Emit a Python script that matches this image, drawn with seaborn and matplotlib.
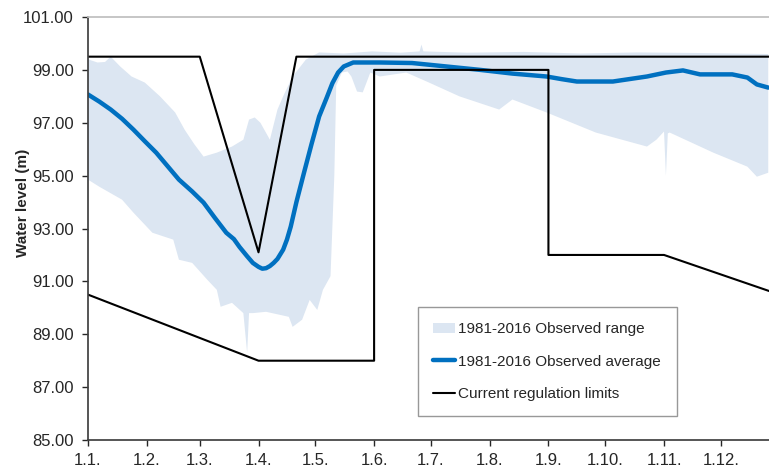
import matplotlib
matplotlib.use("Agg")
import matplotlib.pyplot as plt
import numpy as np
import pandas as pd
import seaborn as sns

# day of year (0 = 1 Jan) and water level readings
month_starts = [0, 31, 59, 90, 120, 151, 181, 212, 243, 273, 304, 334]
month_labels = ["1.1.", "1.2.", "1.3.", "1.4.", "1.5.", "1.6.",
                "1.7.", "1.8.", "1.9.", "1.10.", "1.11.", "1.12."]

avg_days = [0, 6, 12, 18, 24, 30, 36, 42, 48, 55, 61, 67, 73, 77, 80, 84, 87,
            90, 92, 94, 96, 98, 100, 103, 105, 107, 110, 114, 118, 122, 126,
            129, 132, 135, 140, 154, 171, 189, 207, 224, 242, 250, 258, 277,
            295, 305, 314, 323, 340, 348, 353, 359]
avg_vals = [98.07, 97.8, 97.5, 97.15, 96.74, 96.3, 95.87, 95.36, 94.85, 94.4,
            93.98, 93.4, 92.84, 92.6, 92.3, 91.95, 91.7, 91.55, 91.48, 91.5,
            91.58, 91.7, 91.85, 92.2, 92.58, 93.07, 94.0, 95.11, 96.2, 97.24,
            97.95, 98.5, 98.9, 99.13, 99.28, 99.28, 99.26, 99.13, 99.0, 98.86,
            98.75, 98.65, 98.56, 98.56, 98.75, 98.9, 98.98, 98.83, 98.83,
            98.71, 98.45, 98.33]

high_days = [0, 5, 9, 12, 17, 23, 30, 38, 46, 51, 56, 61, 68, 76, 82, 85, 88,
             91, 96, 100, 103, 108, 115, 122, 135, 150, 165, 175, 176, 177,
             200, 230, 260, 290, 320, 340, 359]
high_vals = [99.4, 99.28, 99.3, 99.5, 99.13, 98.75, 98.52, 98.0, 97.39, 96.74,
             96.2, 95.72, 95.87, 96.1, 96.36, 97.12, 97.2, 97.0, 96.36, 97.5,
             98.0, 98.75, 99.39, 99.66, 99.62, 99.7, 99.65, 99.7, 99.96, 99.7,
             99.65, 99.68, 99.62, 99.66, 99.64, 99.62, 99.6]

low_days = [0, 6, 18, 24, 34, 45, 48, 55, 63, 68, 70, 76, 82, 84, 85, 87, 94,
            106, 108, 113, 117, 121, 124, 128, 130, 131, 134, 137, 139, 142,
            145, 147, 149, 154, 168, 180, 196, 217, 224, 242, 268, 295, 300,
            304, 305, 306, 307, 330, 348, 353, 359]
low_vals = [94.85, 94.58, 94.09, 93.6, 92.84, 92.58, 91.82, 91.7, 91.06, 90.68,
            90.04, 90.19, 89.8, 88.3, 89.8, 89.8, 89.85, 89.66, 89.28, 89.55,
            90.3, 89.92, 90.68, 91.2, 95.0, 98.4, 98.9, 98.94, 98.75, 98.18,
            98.15, 98.52, 98.9, 98.75, 98.9, 98.52, 98.0, 97.5, 97.88, 97.39,
            96.63, 96.1, 96.36, 96.67, 95.0, 96.6, 96.63, 95.87, 95.34, 94.96,
            95.11]

upper_days = [0, 59, 90, 110, 365]
upper_vals = [99.5, 99.5, 92.1, 99.5, 99.5]
lower_days = [0, 90, 151, 151, 243, 243, 304, 365]
lower_vals = [90.5, 88.0, 88.0, 99.0, 99.0, 92.0, 92.0, 90.5]

avg_df = pd.DataFrame({"day": avg_days, "level": avg_vals})
upper_df = pd.DataFrame({"day": upper_days, "level": upper_vals})
lower_df = pd.DataFrame({"day": lower_days, "level": lower_vals})

sns.set_theme(style="white")
plt.rcParams["font.family"] = ["Liberation Sans", "DejaVu Sans"]

fig, ax = plt.subplots(figsize=(7.69, 4.70), dpi=100)
fig.subplots_adjust(left=0.1144, right=1.0, top=0.9638, bottom=0.0638)

# observed range as one polygon: upper edge then lower edge backwards
ax.fill(np.concatenate([high_days, low_days[::-1]]),
        np.concatenate([high_vals, low_vals[::-1]]),
        color="#DCE6F2", lw=0, label="1981-2016 Observed range")

sns.lineplot(data=avg_df, x="day", y="level", ax=ax, color="#0070C0", lw=3.2,
             estimator=None, label="1981-2016 Observed average")
sns.lineplot(data=upper_df, x="day", y="level", ax=ax, color="black", lw=1.5,
             estimator=None, sort=False, label="Current regulation limits")
sns.lineplot(data=lower_df, x="day", y="level", ax=ax, color="black", lw=1.5,
             estimator=None, sort=False)

ax.set_xlim(0, 359.4)
ax.set_ylim(85, 101)
ax.set_xticks(month_starts)
ax.set_xticklabels(month_labels)
ax.set_yticks(np.arange(85, 101.1, 2))
ax.yaxis.set_major_formatter(matplotlib.ticker.FormatStrFormatter("%.2f"))
ax.set_xlabel("")
ax.set_ylabel("Water level (m)", fontsize=11, fontweight="bold")
ax.yaxis.set_label_coords(-0.085, 0.56)
ax.tick_params(axis="both", labelsize=12, length=4.3, width=1, colors="#262626",
               direction="out", bottom=True, left=True)
ax.tick_params(axis="y", pad=6)
ax.tick_params(axis="x", pad=5)

ax.spines["right"].set_visible(False)
ax.spines["top"].set_color("#BFBFBF")
ax.spines["left"].set_color("#404040")
ax.spines["bottom"].set_color("#404040")

leg = ax.legend(loc="upper left", bbox_to_anchor=(0.4846, 0.314), fontsize=11,
                frameon=True, fancybox=False, edgecolor="#7F7F7F",
                labelspacing=1.2, handlelength=1.45, handletextpad=0.2,
                borderpad=1.0, borderaxespad=0)
leg.get_frame().set_linewidth(1.0)

fig.savefig("out.png", dpi=100)
